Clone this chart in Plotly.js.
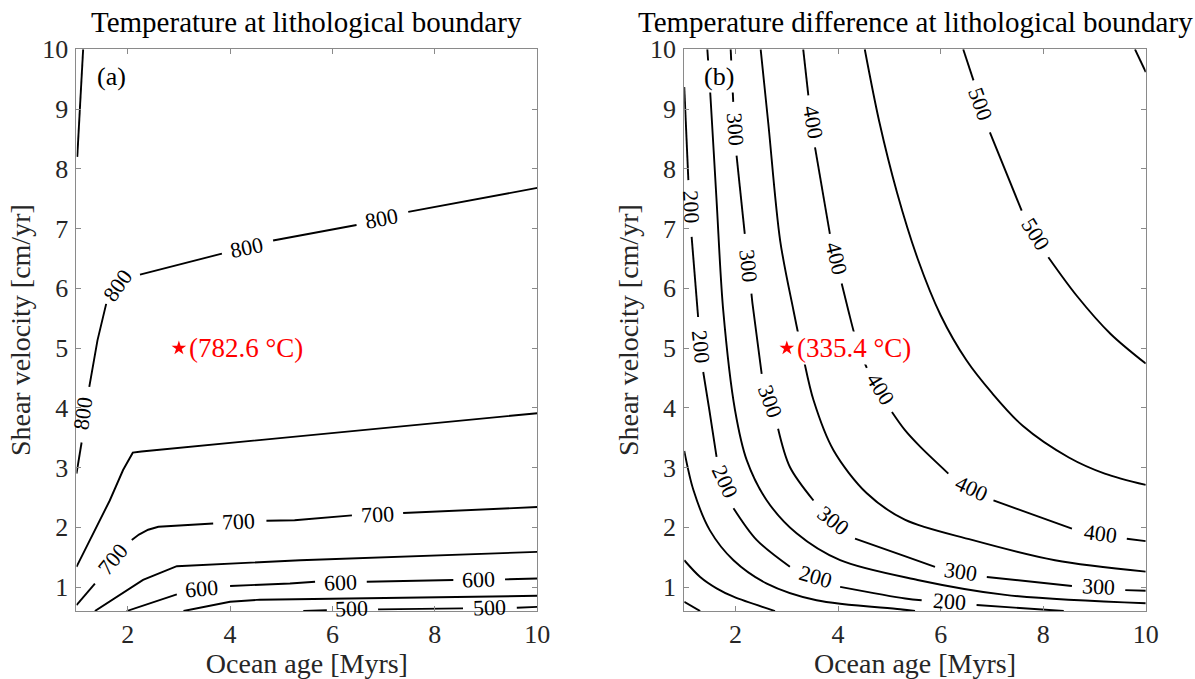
<!DOCTYPE html>
<html><head><meta charset="utf-8">
<script src="https://cdn.plot.ly/plotly-3.0.1.min.js"></script>
<style>html,body{margin:0;padding:0;background:#fff}</style>
</head><body><div id="chart" style="width:1195px;height:679px"></div>
<script>
// ---------- Panel (a): Temperature at lithological boundary ----------
const levelsA = [850, 800, 750, 700, 650, 600, 550, 500];
const xA = [
  [1.015, 1.13],
  [1.0, 1.10, null, 1.25, 1.41, 1.58, null, 2.24, 3.84, null, 4.84, 6.47, null, 7.48, 10],
  [1.0, 1.65, 1.91, 2.10, 2.27, 4.58, 10],
  [1.0, 1.36, null, 2.08, 2.22, 2.40, 2.60, 3.67, null, 4.71, 5.26, 6.38, null, 7.38, 10],
  [1.36, 2.30, 2.96, 5.37, 10],
  [1.98, 2.96, null, 4.0, 5.17, 5.66, null, 6.67, 8.36, null, 9.37, 10],
  [3.09, 4.0, 4.58, 10],
  [5.43, 5.89, null, 6.89, 8.55, null, 9.60, 10]
];
const yA = [
  [8.2, 10],
  [2.90, 3.42, null, 4.35, 5.13, 5.74, null, 6.23, 6.58, null, 6.80, 7.06, null, 7.28, 7.68],
  [1.34, 2.45, 2.96, 3.25, 3.27, 3.46, 3.91],
  [0.70, 1.06, null, 1.79, 1.88, 1.96, 2.01, 2.065, null, 2.11, 2.12, 2.20, null, 2.24, 2.34],
  [0.6, 1.12, 1.35, 1.45, 1.59],
  [0.6, 0.88, null, 1.02, 1.06, 1.09, null, 1.09, 1.12, null, 1.13, 1.145],
  [0.6, 0.755, 0.79, 0.855],
  [0.6, 0.615, null, 0.627, 0.645, null, 0.654, 0.67]
];
const labelTextA = ['800', '800', '800', '800', '700', '700', '700', '600', '600', '600', '500', '500'];
const labelXA = [1.13, 1.80, 4.32, 6.96, 1.70, 4.16, 6.88, 3.45, 6.15, 8.85, 6.375, 9.06];
const labelYA = [3.90, 6.05, 6.69, 7.17, 1.47, 2.09, 2.22, 0.98, 1.08, 1.135, 0.635, 0.655];
const labelAngA = [-82, -55, -12, -11, -50, -3, -3, -5, -2, -2, -2, -2];
const pointA = {x: 3, y: 5, text: '(782.6 °C)'};

// ---------- Panel (b): Temperature difference at lithological boundary ----------
const levelsB = [50, 100, 150, 200, 250, 300, 350, 400, 450, 500, 550];
const xB = [
  [1.0, 1.31],
  [1.0, 1.31, 1.63, 1.96, 2.77],
  [1.0, 1.18, 1.50, 1.96, 2.61, 3.58, 5.21, 5.50],
  [1.0, 1.08, null, 1.144, 1.27, null, 1.37, 1.49, 1.63, null, 1.96, 2.41, 3.06, null, 4.04, 5.31, 5.63, null, 6.70, 8.40],
  [1.45, 1.50, 1.63, 1.76, 1.99, 2.22, 2.61, 3.19, 4.04, 5.55, 7.26, 10],
  [1.905, 1.955, null, 2.02, 2.18, null, 2.31, 2.33, 2.51, null, 2.83, 3.06, 3.52, null, 4.33, 5.30, 5.89, null, 6.90, 8.56, null, 9.60, 10],
  [2.49, 2.64, 2.87, 3.13, 3.32, 3.52, 3.91, 4.56, 5.30, 6.61, 8.23, 10],
  [3.32, 3.42, null, 3.55, 3.84, null, 4.07, 4.20, 4.33, 4.47, 4.56, null, 5.05, 5.30, 5.60, 6.15, null, 7.03, 8.56, null, 9.63, 10],
  [4.52, 4.80, 5.15, 5.55, 6.00, 6.50, 7.00, 7.60, 8.50, 9.20, 10],
  [6.44, 6.64, null, 6.96, 7.58, null, 8.10, 8.65, 9.31, 10],
  [9.79, 10]
];
const yB = [
  [0.754, 0.6],
  [1.45, 1.17, 0.98, 0.84, 0.6],
  [3.28, 2.62, 1.95, 1.45, 1.06, 0.78, 0.63, 0.6],
  [9.37, 7.81, null, 6.86, 5.52, null, 4.60, 3.96, 3.18, null, 2.32, 1.79, 1.34, null, 1.005, 0.81, 0.78, null, 0.70, 0.6],
  [10, 9.37, 7.47, 5.63, 3.96, 3.12, 2.45, 1.90, 1.45, 1.12, 0.87, 0.73],
  [10, 9.12, null, 8.22, 6.91, null, 5.91, 5.75, 4.57, null, 3.65, 3.01, 2.45, null, 1.81, 1.52, 1.34, null, 1.17, 1.02, null, 0.95, 0.94],
  [10, 8.75, 6.80, 5.63, 4.85, 4.13, 3.29, 2.57, 2.13, 1.79, 1.45, 1.26],
  [10, 9.23, null, 8.36, 6.91, null, 6.08, 5.63, 5.20, 4.85, 4.67, null, 3.93, 3.63, 3.35, 2.90, null, 2.45, 1.98, null, 1.81, 1.77],
  [10, 8.80, 7.60, 6.50, 5.55, 4.80, 4.25, 3.70, 3.17, 2.90, 2.71],
  [10, 9.48, null, 8.61, 7.30, null, 6.52, 5.88, 5.24, 4.74],
  [10, 9.62]
];
const labelTextB = ['300', '400', '500', '200', '300', '400', '500', '200', '300', '400', '200', '300', '400', '400', '200', '300', '300', '200'];
const labelXB = [1.99, 3.52, 6.77, 1.145, 2.25, 3.97, 7.84, 1.33, 2.67, 4.82, 1.79, 3.91, 6.61, 9.11, 3.55, 6.38, 9.07, 6.18];
const labelYB = [8.67, 8.78, 9.09, 7.36, 6.38, 6.50, 6.91, 5.03, 4.10, 4.32, 2.76, 2.12, 2.65, 1.90, 1.17, 1.26, 1.005, 0.754];
const labelAngB = [86, 80, 70, 87, 84, 76, 58, 84, 70, 58, 65, 38, 25, 7, 16, 8, 3, 4];
const pointB = {x: 3, y: 5, text: '(335.4 °C)'};

const xTicks = [2, 4, 6, 8, 10];
const yTicks = [1, 2, 3, 4, 5, 6, 7, 8, 9, 10];

// ---------- build ----------
const FONT = '"Liberation Serif", "Times New Roman", serif';
const traces = [];
function addLines(xs, ys, levels, xa, ya, shape) {
  levels.forEach((lv, i) => {
    traces.push({type: 'scatter', mode: 'lines', x: xs[i], y: ys[i], xaxis: xa, yaxis: ya,
      name: String(lv), showlegend: false, hoverinfo: 'skip', connectgaps: false,
      line: {color: '#000', width: 1.9, shape: shape, smoothing: 0.9}});
  });
}
addLines(xA, yA, levelsA, 'x', 'y', 'linear');
addLines(xB, yB, levelsB, 'x2', 'y2', 'spline');
[[pointA, 'x', 'y'], [pointB, 'x2', 'y2']].forEach(([p, xa, ya]) => {
  traces.push({type: 'scatter', mode: 'markers', x: [p.x], y: [p.y], xaxis: xa, yaxis: ya,
    showlegend: false, marker: {symbol: 'star', size: 11, color: '#ff0000', line: {width: 0}}});
});

const annotations = [];
function addLabels(t, xs, ys, angs, xr, yr) {
  t.forEach((s, i) => annotations.push({xref: xr, yref: yr, x: xs[i], y: ys[i], text: s,
    showarrow: false, textangle: angs[i], font: {family: FONT, size: 22, color: '#000'}}));
}
addLabels(labelTextA, labelXA, labelYA, labelAngA, 'x', 'y');
addLabels(labelTextB, labelXB, labelYB, labelAngB, 'x2', 'y2');
[[pointA, 'x', 'y'], [pointB, 'x2', 'y2']].forEach(([p, xr, yr]) => annotations.push({
  xref: xr, yref: yr, x: p.x, y: p.y, text: p.text, showarrow: false, xanchor: 'left',
  xshift: 8, bgcolor: '#fff', borderpad: 1, font: {family: FONT, size: 27, color: '#ff0000'}}));
[['(a)', 'x', 'y'], ['(b)', 'x2', 'y2']].forEach(([s, xr, yr]) => annotations.push({
  xref: xr, yref: yr, x: 1.68, y: 9.545, text: s, showarrow: false, bgcolor: '#fff', borderpad: 1,
  font: {family: FONT, size: 26, color: '#000'}}));
[['Temperature at lithological boundary', 'x domain', 'y domain'],
 ['Temperature difference at lithological boundary', 'x2 domain', 'y2 domain']].forEach(([s, xr, yr]) =>
  annotations.push({xref: xr, yref: yr, x: 0.5, y: 1, yanchor: 'bottom', yshift: 10, borderpad: 0,
    text: s, showarrow: false, font: {family: FONT, size: 29, color: '#000'}}));

const axisBase = {showline: true, linecolor: '#8a8a8a', linewidth: 1, mirror: 'ticks', ticks: 'inside',
  ticklen: 5, tickwidth: 1, tickcolor: '#8a8a8a', showgrid: false, zeroline: false,
  tickfont: {family: FONT, size: 26, color: '#262626'}};
function xAxis(dom, anchor) {
  return Object.assign({}, axisBase, {domain: dom, anchor: anchor, range: [1, 10], tickvals: xTicks,
    ticklabelstandoff: 0,
    title: {text: 'Ocean age [Myrs]', font: {family: FONT, size: 28, color: '#262626'}, standoff: 8}});
}
function yAxis(anchor) {
  return Object.assign({}, axisBase, {domain: [0.1001, 0.9274], anchor: anchor, range: [0.6, 10],
    tickvals: yTicks, ticklabelstandoff: 2,
    title: {text: 'Shear velocity [cm/yr]', font: {family: FONT, size: 28, color: '#262626'}, standoff: 3}});
}
const layout = {
  width: 1195, height: 679, autosize: false, paper_bgcolor: '#fff', plot_bgcolor: '#fff',
  margin: {l: 0, r: 0, t: 0, b: 0}, showlegend: false,
  xaxis: xAxis([0.0640, 0.4496], 'y'), yaxis: yAxis('x'),
  xaxis2: xAxis([0.5726, 0.9588], 'y2'), yaxis2: yAxis('x2'),
  annotations: annotations
};
Plotly.newPlot('chart', traces, layout, {displayModeBar: false, staticPlot: true});
</script></body></html>
